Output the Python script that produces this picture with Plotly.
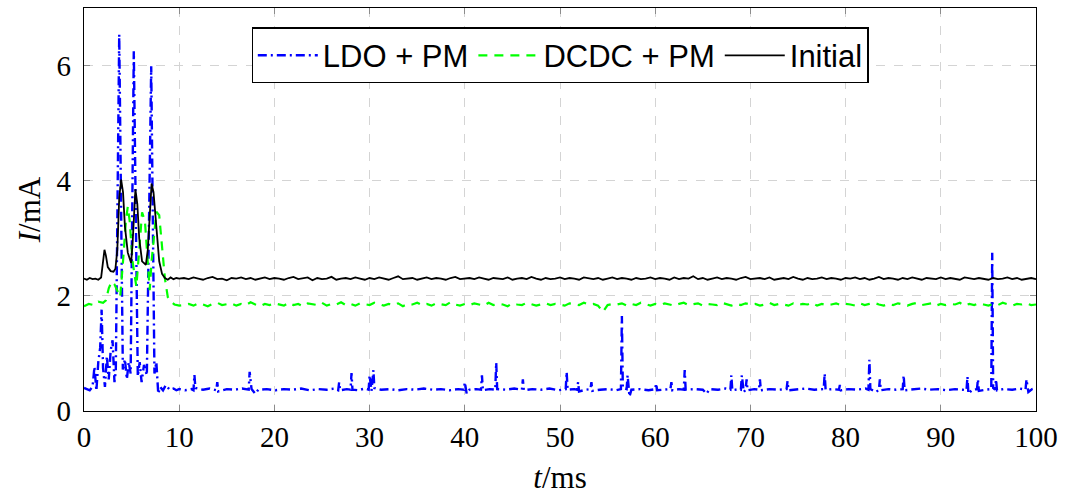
import plotly.graph_objects as go

# ---------------- data ----------------
# LDO + PM (blue, dash-dot)
ldo_t = [0, 0.3, 0.6, 0.9, 1.1, 1.3, 1.5, 1.7, 1.85, 2.0, 2.2, 2.4, 2.6, 2.8, 3.0, 3.2, 3.34, 3.7, 4.08,
         4.3, 4.5, 4.7, 4.9, 5.23, 5.65, 5.85, 6.05, 6.3, 6.6, 7.06, 7.4, 7.6, 7.8, 8.0, 8.3, 8.6, 9.0,
         9.4, 9.7, 10.0,
         10.6, 11.3, 11.5, 11.6, 11.7, 12.5, 13.2, 13.9, 14.0, 14.1, 15.0, 15.8, 16.6, 17.3, 17.4, 17.6,
         18.0, 18.3, 19.2, 20.1, 21.0, 21.9, 22.8, 23.7, 24.6, 25.5, 26.3, 26.7, 26.8, 26.9, 27.6, 28.0,
         28.1, 28.2, 28.8, 29.5, 29.9, 30.0, 30.2, 30.4, 30.5, 31.2, 32.1, 33.0, 33.9, 34.8, 35.7, 36.6,
         37.5, 38.4, 39.3, 39.9, 40.0, 40.2, 40.5, 41.2, 41.7, 41.8, 41.9, 42.6, 43.2, 43.3, 43.4, 44.3,
         45.2, 46.0, 46.1, 46.2, 47.1, 48.0, 48.9, 49.8, 50.6, 50.7, 50.8, 51.5, 51.8, 51.9, 52.0, 52.7,
         53.2, 53.3, 53.4, 54.2, 55.1, 55.9, 56.4, 56.5, 56.6, 57.0, 57.1, 57.3, 57.5, 58.4, 59.3, 60.0,
         60.1, 60.2, 61.0, 61.6, 61.7, 61.8, 62.5, 63.0, 63.1, 63.2, 64.1, 65.0, 65.4, 65.7, 66.6, 67.4,
         67.9, 68.0, 68.1, 68.8, 69.0, 69.1, 69.3, 69.5, 69.6, 69.7, 70.4, 70.9, 71.0, 71.1, 72.0, 72.9,
         73.8, 73.9, 74.0, 74.9, 75.8, 76.7, 77.7, 77.8, 77.9, 78.6, 79.3, 79.4, 79.5, 80.3, 81.2, 82.1,
         82.4, 82.5, 82.6, 83.2, 83.5, 83.6, 83.7, 84.5, 85.3, 86.0, 86.1, 86.2, 87.0, 87.9, 88.8, 89.7,
         90.6, 91.5, 92.3, 92.7, 92.8, 92.9, 93.3, 93.8, 93.9, 94.0, 94.7, 95.3, 95.4, 95.5, 95.7, 95.8,
         95.9, 96.6, 97.5, 98.3, 98.9, 99.0, 99.2, 99.6, 100.0]
ldo_i = [0.40, 0.38, 0.36, 0.42, 0.77, 0.35, 0.85, 1.10, 1.76, 0.75, 0.42, 0.95, 0.55, 1.05, 1.23, 0.50,
         0.70, 6.54, 0.72, 0.90, 0.55, 0.85, 0.65, 6.25, 0.60, 0.85, 0.50, 0.80, 0.62, 5.99, 0.65, 0.85,
         0.30, 0.42, 0.36, 0.45, 0.37, 0.39, 0.36, 0.38,
         0.36, 0.38, 0.36, 0.63, 0.40, 0.37, 0.39, 0.36, 0.50, 0.34, 0.38, 0.37, 0.39, 0.37, 0.68, 0.38,
         0.30, 0.37, 0.38, 0.36, 0.38, 0.37, 0.39, 0.36, 0.38, 0.37, 0.39, 0.36, 0.50, 0.36, 0.38, 0.37,
         0.66, 0.37, 0.36, 0.39, 0.37, 0.62, 0.35, 0.71, 0.40, 0.37, 0.38, 0.36, 0.38, 0.37, 0.39, 0.37,
         0.38, 0.36, 0.38, 0.37, 0.50, 0.30, 0.37, 0.38, 0.37, 0.62, 0.36, 0.38, 0.37, 0.84, 0.38, 0.37,
         0.39, 0.37, 0.55, 0.36, 0.38, 0.37, 0.39, 0.36, 0.38, 0.68, 0.37, 0.38, 0.37, 0.50, 0.34, 0.37,
         0.38, 0.50, 0.35, 0.37, 0.38, 0.36, 0.38, 1.65, 0.40, 0.38, 0.62, 0.25, 0.37, 0.38, 0.36, 0.38,
         0.48, 0.36, 0.37, 0.38, 0.50, 0.36, 0.38, 0.37, 0.71, 0.37, 0.38, 0.37, 0.30, 0.38, 0.37, 0.39,
         0.37, 0.62, 0.36, 0.38, 0.37, 0.62, 0.33, 0.37, 0.55, 0.36, 0.38, 0.37, 0.55, 0.36, 0.38, 0.37,
         0.38, 0.52, 0.36, 0.37, 0.39, 0.37, 0.38, 0.65, 0.37, 0.38, 0.37, 0.45, 0.36, 0.38, 0.37, 0.39,
         0.37, 0.89, 0.38, 0.33, 0.37, 0.55, 0.36, 0.38, 0.37, 0.38, 0.62, 0.36, 0.37, 0.39, 0.37, 0.38,
         0.36, 0.38, 0.37, 0.36, 0.60, 0.30, 0.37, 0.38, 0.55, 0.35, 0.37, 0.38, 2.75, 0.40, 0.37, 0.55,
         0.36, 0.38, 0.37, 0.39, 0.37, 0.55, 0.33, 0.38, 0.40]

# DCDC + PM (green, dashed) -- start-up section
dcdc_t_start = [0, 0.5, 1, 1.5, 2, 2.3, 2.6, 2.9, 3.2, 3.5, 3.8, 4.1, 4.4, 4.6, 4.8, 5.1, 5.5, 5.8, 6.1,
                6.4, 6.7, 6.9, 7.1, 7.4, 7.6, 7.9, 8.2, 8.5, 8.8, 9.1, 9.5, 10]
dcdc_i_start = [1.82, 1.86, 1.84, 1.90, 1.88, 1.92, 2.13, 2.25, 2.20, 2.10, 1.98, 2.60, 3.30, 3.55, 3.30,
                2.60, 2.16, 2.80, 3.45, 3.30, 2.50, 2.10, 2.60, 3.20, 3.46, 3.40, 2.80, 2.30, 1.98, 1.90,
                1.85, 1.83]
# steady section, sampled every 0.5 ms from 10.5 ms to 100 ms
dcdc_i_tail = [
    1.84, 1.86, 1.83, 1.87, 1.85, 1.82, 1.86, 1.88, 1.84, 1.85, 1.87, 1.83, 1.86, 1.84, 1.89, 1.85, 1.82, 1.86, 1.84, 1.87,
    1.85, 1.83, 1.88, 1.84, 1.86, 1.82, 1.87, 1.85, 1.84, 1.88, 1.83, 1.86, 1.85, 1.89, 1.84, 1.86, 1.83, 1.87, 1.85, 1.84,
    1.88, 1.85, 1.83, 1.86, 1.84, 1.87, 1.82, 1.86, 1.85, 1.88, 1.84, 1.86, 1.83, 1.87, 1.85, 1.84, 1.89, 1.85, 1.83, 1.86,
    1.84, 1.87, 1.85, 1.83, 1.88, 1.84, 1.86, 1.85, 1.82, 1.87, 1.85, 1.84, 1.88, 1.86, 1.83, 1.85, 1.87, 1.84, 1.86, 1.85,
    1.83, 1.87, 1.85, 1.84, 1.88, 1.85, 1.86, 1.83, 1.72, 1.84, 1.86, 1.85, 1.87, 1.83, 1.86, 1.84, 1.88, 1.85, 1.83, 1.86,
    1.84, 1.87, 1.85, 1.83, 1.86, 1.88, 1.84, 1.85, 1.87, 1.83, 1.86, 1.85, 1.84, 1.88, 1.85, 1.83, 1.86, 1.84, 1.87, 1.85,
    1.86, 1.83, 1.85, 1.88, 1.84, 1.86, 1.85, 1.83, 1.87, 1.84, 1.86, 1.85, 1.88, 1.83, 1.86, 1.84, 1.85, 1.87, 1.84, 1.86,
    1.85, 1.83, 1.87, 1.84, 1.86, 1.88, 1.85, 1.83, 1.86, 1.84, 1.87, 1.85, 1.83, 1.86, 1.88, 1.84, 1.85, 1.87, 1.83, 1.86,
    1.84, 1.86, 1.85, 1.88, 1.83, 1.86, 1.84, 1.87, 1.85, 1.83, 1.86, 1.84, 1.88, 1.85, 1.83, 1.86, 1.85, 1.87, 1.84, 1.85]

# Initial (black, solid) -- start-up section
init_t_start = [0, 0.3, 0.6, 0.9, 1.2, 1.5, 1.8, 2.0, 2.15, 2.3, 2.5, 2.8, 3.1, 3.3, 3.5, 3.7, 3.9, 4.1,
                4.3, 4.6, 4.95, 5.1, 5.25, 5.4, 5.6, 5.8, 6.1, 6.5, 6.7, 6.9, 7.1, 7.3, 7.5, 7.7, 7.9, 8.2,
                8.5, 8.8, 9.1, 9.4, 9.7, 10]
init_i_start = [2.30, 2.28, 2.31, 2.29, 2.30, 2.28, 2.32, 2.60, 2.80, 2.70, 2.50, 2.43, 2.42, 2.47, 2.80,
                3.70, 4.02, 3.80, 3.20, 2.75, 2.57, 2.90, 3.50, 3.85, 3.60, 3.00, 2.60, 2.54, 2.80, 3.50,
                3.95, 3.80, 3.40, 3.00, 2.60, 2.38, 2.31, 2.28, 2.32, 2.29, 2.31, 2.30]
# steady section, sampled every 0.5 ms from 10.5 ms to 100 ms
init_i_tail = [
    2.31, 2.29, 2.32, 2.30, 2.28, 2.31, 2.33, 2.29, 2.30, 2.27, 2.31, 2.30, 2.32, 2.29, 2.31, 2.28, 2.30, 2.32, 2.29, 2.31,
    2.30, 2.28, 2.31, 2.33, 2.29, 2.30, 2.32, 2.27, 2.31, 2.29, 2.30, 2.33, 2.28, 2.30, 2.31, 2.29, 2.32, 2.30, 2.28, 2.31,
    2.29, 2.32, 2.30, 2.28, 2.31, 2.34, 2.29, 2.30, 2.31, 2.28, 2.30, 2.32, 2.29, 2.31, 2.30, 2.28, 2.31, 2.33, 2.29, 2.30,
    2.31, 2.29, 2.32, 2.30, 2.28, 2.31, 2.30, 2.29, 2.32, 2.28, 2.30, 2.31, 2.29, 2.33, 2.30, 2.28, 2.31, 2.29, 2.30, 2.32,
    2.29, 2.31, 2.30, 2.28, 2.32, 2.30, 2.29, 2.31, 2.28, 2.30, 2.32, 2.29, 2.31, 2.30, 2.28, 2.31, 2.29, 2.30, 2.32, 2.29,
    2.31, 2.30, 2.28, 2.32, 2.29, 2.31, 2.30, 2.34, 2.29, 2.31, 2.28, 2.30, 2.32, 2.29, 2.31, 2.30, 2.28, 2.31, 2.33, 2.29,
    2.30, 2.31, 2.29, 2.32, 2.28, 2.30, 2.31, 2.29, 2.33, 2.30, 2.28, 2.31, 2.29, 2.30, 2.32, 2.29, 2.31, 2.30, 2.28, 2.31,
    2.30, 2.32, 2.29, 2.31, 2.28, 2.30, 2.33, 2.29, 2.31, 2.30, 2.28, 2.31, 2.29, 2.32, 2.30, 2.28, 2.31, 2.30, 2.29, 2.32,
    2.29, 2.31, 2.30, 2.28, 2.32, 2.30, 2.29, 2.31, 2.30, 2.28, 2.31, 2.29, 2.30, 2.32, 2.29, 2.31, 2.28, 2.30, 2.31, 2.29]

tail_t = [10.5 + 0.5 * k for k in range(len(init_i_tail))]

x_ticks = [0, 10, 20, 30, 40, 50, 60, 70, 80, 90, 100]
y_ticks = [0, 2, 4, 6]
names = ["LDO + PM", "DCDC + PM", "Initial"]

# ---------------- figure ----------------
serif = "Liberation Serif, DejaVu Serif, serif"
sans = "Liberation Sans, Arial, sans-serif"

fig = go.Figure()
fig.add_trace(go.Scatter(x=ldo_t, y=ldo_i, mode="lines", name=names[0],
                         line=dict(color="#0000ff", width=2.4, dash="9px,4px,2px,4px")))
fig.add_trace(go.Scatter(x=dcdc_t_start + tail_t, y=dcdc_i_start + dcdc_i_tail, mode="lines",
                         name=names[1], line=dict(color="#00ff00", width=2.2, dash="9px,7px")))
fig.add_trace(go.Scatter(x=init_t_start + tail_t, y=init_i_start + init_i_tail, mode="lines",
                         name=names[2], line=dict(color="#000000", width=1.8)))

axis_common = dict(
    showline=True, linecolor="black", linewidth=1.3, mirror="ticks",
    ticks="inside", ticklen=6, tickcolor="#8c8c8c", tickwidth=1,
    showgrid=True, gridcolor="#d4d4d4", griddash="dash", gridwidth=1,
    zeroline=False, automargin=False,
    tickfont=dict(family=serif, size=29, color="black"),
)

fig.update_layout(
    width=1065, height=495,
    margin=dict(l=84, r=29, t=8, b=84),
    paper_bgcolor="white", plot_bgcolor="white",
    showlegend=True,
    legend=dict(orientation="h", x=0.5, xanchor="center", y=0.952, yanchor="top",
                bgcolor="white", bordercolor="black", borderwidth=1.3,
                font=dict(family=sans, size=31, color="black"),
                itemwidth=60, tracegroupgap=0),
    xaxis=dict(range=[0, 100], tickvals=x_ticks,
               title=dict(text="<i>t</i>/ms", font=dict(family=serif, size=31, color="black"),
                          standoff=16),
               **axis_common),
    yaxis=dict(range=[0, 7], tickvals=y_ticks, ticklabelstandoff=6,
               title=dict(text="<i>I</i>/mA", font=dict(family=serif, size=31, color="black"),
                          standoff=6),
               **axis_common),
)

fig.write_html("out.html")
